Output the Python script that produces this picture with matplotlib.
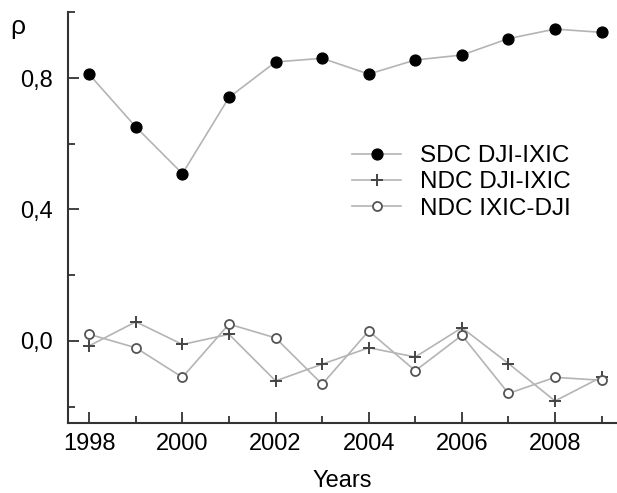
import matplotlib
matplotlib.use("Agg")
import matplotlib.pyplot as plt
from matplotlib.ticker import MultipleLocator

plt.rcParams["font.family"] = ["Liberation Sans", "DejaVu Sans"]

years = list(range(1998, 2010))
sdc_dji_ixic = [0.811, 0.651, 0.509, 0.741, 0.849, 0.860, 0.812, 0.855, 0.870, 0.920, 0.949, 0.939]
ndc_dji_ixic = [-0.015, 0.058, -0.011, 0.020, -0.122, -0.071, -0.021, -0.049, 0.040, -0.069, -0.183, -0.110]
ndc_ixic_dji = [0.020, -0.021, -0.111, 0.051, 0.009, -0.132, 0.030, -0.091, 0.017, -0.160, -0.111, -0.120]
labels = ["SDC DJI-IXIC", "NDC DJI-IXIC", "NDC IXIC-DJI"]

fig = plt.figure(figsize=(6.17, 4.93), dpi=100)
ax = fig.add_axes([0.1107, 0.142, 0.8893, 0.833])

line_c = "#b4b4b4"
ax.plot(years, sdc_dji_ixic, color=line_c, lw=1.2, marker="o", ms=7.8,
        mfc="black", mec="black", label=labels[0])
ax.plot(years, ndc_dji_ixic, color=line_c, lw=1.2, marker="+", ms=8,
        mec="#444444", mew=1.4, label=labels[1])
ax.plot(years, ndc_ixic_dji, color=line_c, lw=1.2, marker="o", ms=6.5,
        mfc="white", mec="#555555", mew=1.3, label=labels[2])

ax.set_xlim(1997.55, 2009.33)
ax.set_ylim(-0.25, 1.0)
ax.xaxis.set_major_locator(MultipleLocator(2))
ax.xaxis.set_minor_locator(MultipleLocator(1))
ax.yaxis.set_major_locator(MultipleLocator(0.4))
ax.yaxis.set_minor_locator(MultipleLocator(0.2))
ax.yaxis.set_major_formatter(lambda v, p: f"{v:.1f}".replace(".", ",").replace("-0,0", "0,0"))

for s in ("top", "right"):
    ax.spines[s].set_visible(False)
for s in ("left", "bottom"):
    ax.spines[s].set_color("#333333")
    ax.spines[s].set_linewidth(1.5)

ax.tick_params(which="both", direction="in", color="#333333", width=1.3)
ax.tick_params(which="major", length=8, labelsize=17)
ax.tick_params(which="minor", length=5)
ax.tick_params(axis="x", which="major", pad=7)
ax.tick_params(axis="y", which="major", pad=11)

ax.set_xlabel("Years", fontsize=17, labelpad=11)
fig.text(0.028, 0.945, "ρ", fontsize=19, ha="center", va="center")

ax.legend(loc="upper left", bbox_to_anchor=(0.5, 0.70), frameon=False, fontsize=17.5,
          handlelength=2.0, handletextpad=0.8, labelspacing=0.17, borderaxespad=0)

fig.savefig("out.png", dpi=100)
